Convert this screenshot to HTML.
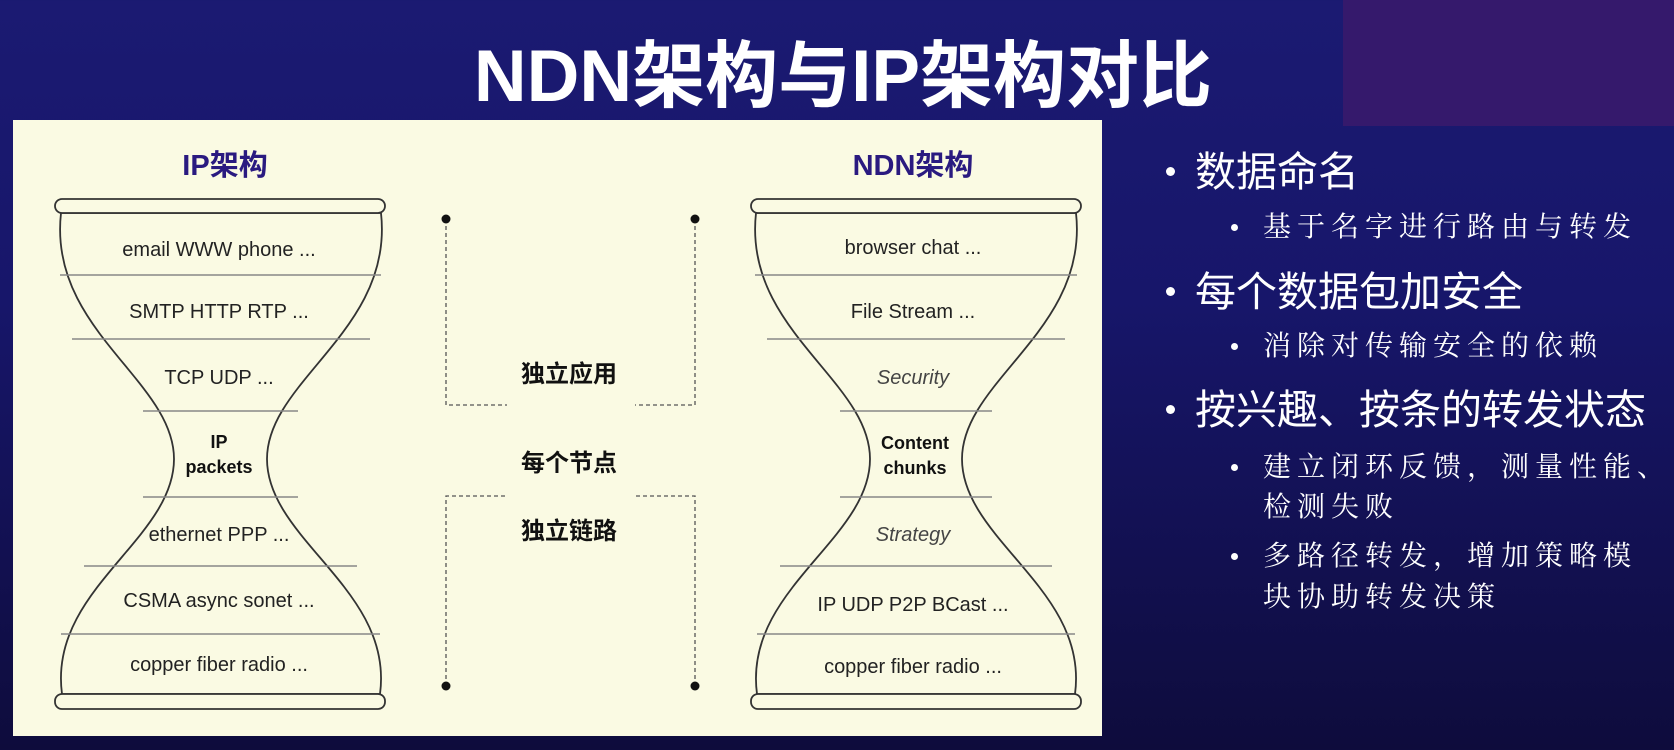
<!DOCTYPE html>
<html><head><meta charset="utf-8"><style>
html,body{margin:0;padding:0}
body{width:1674px;height:750px;overflow:hidden;position:relative;
background:linear-gradient(180deg,#1b1a72 0%,#17166a 40%,#121050 75%,#0e0c3c 100%);font-family:"Liberation Sans","Noto Sans CJK SC",sans-serif}
.purp{position:absolute;left:1343px;top:0;width:331px;height:126px;background:#35196c}
.title{position:absolute;left:0;width:1686px;top:32px;text-align:center;color:#fff;font-size:73px;font-weight:bold;letter-spacing:0;line-height:90px}
.panel{position:absolute;left:13px;top:120px;width:1089px;height:616px;background:#fafae3}
.b{position:absolute;color:#fff;white-space:nowrap}
.l1{font-size:41px;line-height:41px;left:1195px;font-family:"Liberation Sans","Noto Sans CJK SC",sans-serif}
.l2{font-size:28px;line-height:28px;left:1263px;font-family:"Liberation Serif","Noto Serif CJK SC",serif;letter-spacing:6px}
.dot{position:absolute;background:#fff;border-radius:50%}
</style></head><body>
<div class="purp"></div>
<div class="title">NDN架构与IP架构对比</div>
<div class="panel"></div>
<svg width="1674" height="750" style="position:absolute;left:0;top:0">
<g fill="#fafae3" stroke="#333" stroke-width="1.8">
<path d="M61 213 C48 330,174 380,174 459 C174 540,48 590,62 694 L380 694 C394 590,267 540,267 459 C267 380,394 330,381 213 Z"/>
<path d="M756 213 C743 330,870 380,870 459 C870 540,743 590,757 694 L1075 694 C1089 590,962 540,962 459 C962 380,1089 330,1076 213 Z"/>
<rect x="55" y="199" width="330" height="14" rx="7"/>
<rect x="55" y="694" width="330" height="15" rx="7"/>
<rect x="751" y="199" width="330" height="14" rx="7"/>
<rect x="751" y="694" width="330" height="15" rx="7"/>
</g>
<g stroke="#888" stroke-width="1.5">
<line x1="60" y1="275" x2="381" y2="275"/><line x1="72" y1="339" x2="370" y2="339"/>
<line x1="143" y1="411" x2="298" y2="411"/><line x1="143" y1="497" x2="298" y2="497"/>
<line x1="84" y1="566" x2="357" y2="566"/><line x1="61" y1="634" x2="380" y2="634"/>
<line x1="755" y1="275" x2="1077" y2="275"/><line x1="767" y1="339" x2="1065" y2="339"/>
<line x1="840" y1="411" x2="992" y2="411"/><line x1="840" y1="497" x2="992" y2="497"/>
<line x1="780" y1="566" x2="1052" y2="566"/><line x1="757" y1="634" x2="1075" y2="634"/>
</g>
<g stroke="#555" stroke-width="1.3" stroke-dasharray="4,3" fill="none">
<path d="M446 219 V405 H507"/><path d="M695 219 V405 H635"/>
<path d="M446 686 V496 H507"/><path d="M695 686 V496 H635"/>
</g>
<g fill="#111"><circle cx="446" cy="219" r="4.5"/><circle cx="695" cy="219" r="4.5"/><circle cx="446" cy="686" r="4.5"/><circle cx="695" cy="686" r="4.5"/></g>
<g font-family="Liberation Sans, Noto Sans CJK SC, sans-serif" text-anchor="middle">
<text x="225" y="175" font-size="29" font-weight="bold" fill="#2a1a80">IP架构</text>
<text x="913" y="175" font-size="29" font-weight="bold" fill="#2a1a80">NDN架构</text>
<g font-size="24" font-weight="bold" fill="#111">
<text x="569" y="382">独立应用</text><text x="569" y="471">每个节点</text><text x="569" y="539">独立链路</text>
</g>
<g font-size="20" fill="#222">
<text x="219" y="256">email  WWW  phone ...</text>
<text x="219" y="318">SMTP  HTTP  RTP ...</text>
<text x="219" y="384">TCP  UDP  ...</text>
<text x="219" y="541">ethernet  PPP ...</text>
<text x="219" y="607">CSMA  async  sonet  ...</text>
<text x="219" y="671">copper  fiber  radio  ...</text>
<text x="913" y="254">browser  chat  ...</text>
<text x="913" y="318">File  Stream  ...</text>
<text x="913" y="384" font-style="italic" fill="#444">Security</text>
<text x="913" y="541" font-style="italic" fill="#444">Strategy</text>
<text x="913" y="611">IP  UDP  P2P  BCast  ...</text>
<text x="913" y="673">copper  fiber  radio  ...</text>
</g>
<g font-size="18" font-weight="bold" fill="#111">
<text x="219" y="448">IP</text><text x="219" y="473">packets</text>
<text x="915" y="449">Content</text><text x="915" y="474">chunks</text>
</g>
</g>
</svg>
<div class="dot" style="left:1166px;top:167px;width:9px;height:9px"></div>
<div class="dot" style="left:1166px;top:287px;width:9px;height:9px"></div>
<div class="dot" style="left:1166px;top:405px;width:9px;height:9px"></div>
<div class="dot" style="left:1231px;top:224px;width:7px;height:7px"></div>
<div class="dot" style="left:1231px;top:343px;width:7px;height:7px"></div>
<div class="dot" style="left:1231px;top:464px;width:7px;height:7px"></div>
<div class="dot" style="left:1231px;top:553px;width:7px;height:7px"></div>
<div class="b l1" style="top:152px">数据命名</div>
<div class="b l2" style="top:214px">基于名字进行路由与转发</div>
<div class="b l1" style="top:272px">每个数据包加安全</div>
<div class="b l2" style="top:333px">消除对传输安全的依赖</div>
<div class="b l1" style="top:390px">按兴趣、按条的转发状态</div>
<div class="b l2" style="top:454px">建立闭环反馈，测量性能、</div>
<div class="b l2" style="top:494px">检测失败</div>
<div class="b l2" style="top:543px">多路径转发，增加策略模</div>
<div class="b l2" style="top:584px">块协助转发决策</div>
</body></html>
